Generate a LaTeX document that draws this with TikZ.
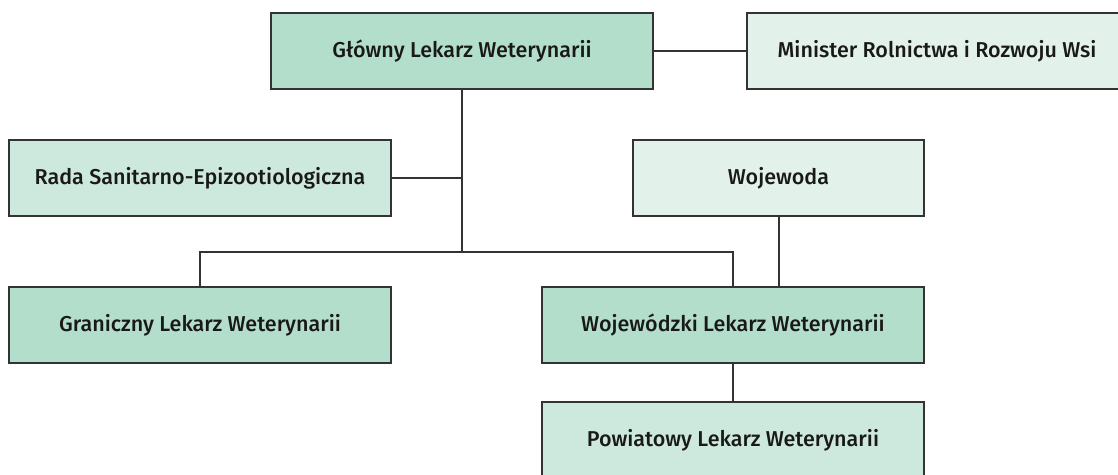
\documentclass[tikz,border=0pt]{standalone}
\usepackage{fontspec}
\setmainfont{Fira Sans}[UprightFont={* Medium}]
\definecolor{gmid}{HTML}{B2DECB}
\definecolor{glight}{HTML}{CDE9DD}
\definecolor{gpale}{HTML}{E2F2EB}
\definecolor{edge}{HTML}{333333}
\tikzset{
  box/.style={draw=edge, line width=1.2pt, rectangle, minimum height=76pt, inner sep=0pt, font=\fontsize{21.5}{26}\selectfont, text=black!90},
  link/.style={draw=edge, line width=1.2pt}
}
\begin{document}
\begin{tikzpicture}[x=1pt,y=-1pt]
\useasboundingbox (0,0) rectangle (1118,474);
\clip (0,0) rectangle (1118,474);
\node[box, fill=gmid, minimum width=382pt] (G) at (462,51) {Główny Lekarz Weterynarii};
\node[box, fill=gpale, minimum width=380pt] (M) at (937,51) {Minister Rolnictwa i Rozwoju Wsi};
\node[box, fill=glight, minimum width=382pt] (R) at (200,178) {Rada Sanitarno-Epizootiologiczna};
\node[box, fill=gpale, minimum width=291pt] (WD) at (778.5,178) {Wojewoda};
\node[box, fill=gmid, minimum width=382pt] (GR) at (200,325) {Graniczny Lekarz Weterynarii};
\node[box, fill=gmid, minimum width=382pt] (WL) at (733,325) {Wojewódzki Lekarz Weterynarii};
\node[box, fill=glight, minimum width=382pt] (P) at (733,440) {Powiatowy Lekarz Weterynarii};
\coordinate (J) at (462,252);
\coordinate (WDL) at (779,216);
\draw[link] (G.east) -- (M.west);
\draw[link] (G.south) -- (J);
\draw[link] (R.east) -- (R.east -| J);
\draw[link] (GR.north) |- (J) -| (WL.north);
\draw[link] (WDL) -- (WDL |- WL.north);
\draw[link] (WL.south) -- (P.north);
\end{tikzpicture}
\end{document}
